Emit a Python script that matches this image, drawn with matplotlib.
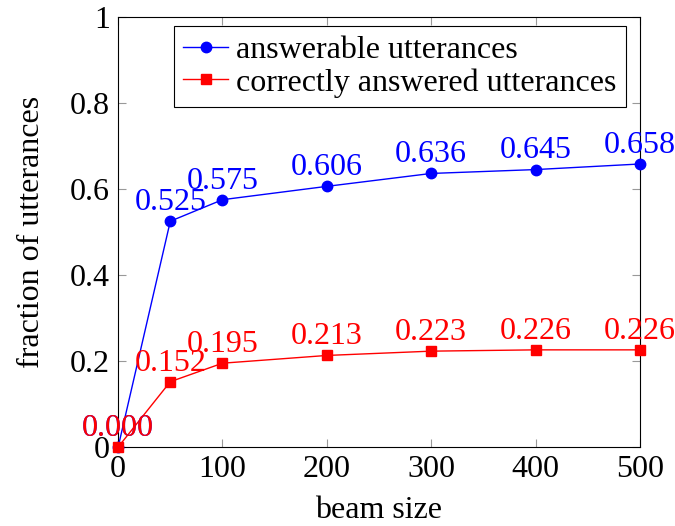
import matplotlib
matplotlib.use('Agg')
import matplotlib.pyplot as plt

plt.rcParams['font.family'] = ['Liberation Serif', 'DejaVu Serif']
plt.rcParams['mathtext.fontset'] = 'stix'

beam_size = [0, 50, 100, 200, 300, 400, 500]
answerable = [0.000, 0.525, 0.575, 0.606, 0.636, 0.645, 0.658]
correct = [0.000, 0.152, 0.195, 0.213, 0.223, 0.226, 0.226]

x_ticks = [0, 100, 200, 300, 400, 500]
y_ticks = [0, 0.2, 0.4, 0.6, 0.8, 1]
y_tick_labels = ['0', '0.2', '0.4', '0.6', '0.8', '1']

fs = 23

fig = plt.figure(figsize=(6.75, 5.26), dpi=100)
ax = fig.add_axes([0.175, 0.150, 0.773, 0.818])

ax.plot(beam_size, answerable, color='blue', lw=1, marker='o', ms=7.5,
        label='answerable utterances', clip_on=False, zorder=3)
ax.plot(beam_size, correct, color='red', lw=1, marker='s', ms=7.5,
        label='correctly answered utterances', clip_on=False, zorder=3)

for xs, ys, c in [(beam_size, answerable, 'blue'), (beam_size, correct, 'red')]:
    for x, y in zip(xs, ys):
        ax.annotate(f'{y:.3f}', (x, y), xytext=(0, 8), textcoords='offset points',
                    ha='center', va='baseline', color=c, fontsize=fs,
                    annotation_clip=False, zorder=4)

ax.set_xlim(0, 500)
ax.set_ylim(0, 1)
ax.set_xticks(x_ticks)
ax.set_xticklabels([str(t) for t in x_ticks])
ax.set_yticks(y_ticks)
ax.set_yticklabels(y_tick_labels)
ax.tick_params(direction='in', length=6, width=0.8, color='#999999',
               top=True, right=True, labelsize=fs, pad=6)
for s in ax.spines.values():
    s.set_linewidth(0.8)

ax.set_xlabel('beam size', fontsize=fs, labelpad=8)
ax.set_ylabel('fraction of utterances', fontsize=fs, labelpad=17)

leg = ax.legend(loc='upper right', bbox_to_anchor=(0.973, 0.979), fontsize=fs,
                fancybox=False, framealpha=1, edgecolor='black', borderaxespad=0,
                handlelength=1.4, handletextpad=0.25, borderpad=0.3,
                labelspacing=0.1)
leg.get_frame().set_linewidth(0.8)

fig.savefig('out.png', dpi=100)
